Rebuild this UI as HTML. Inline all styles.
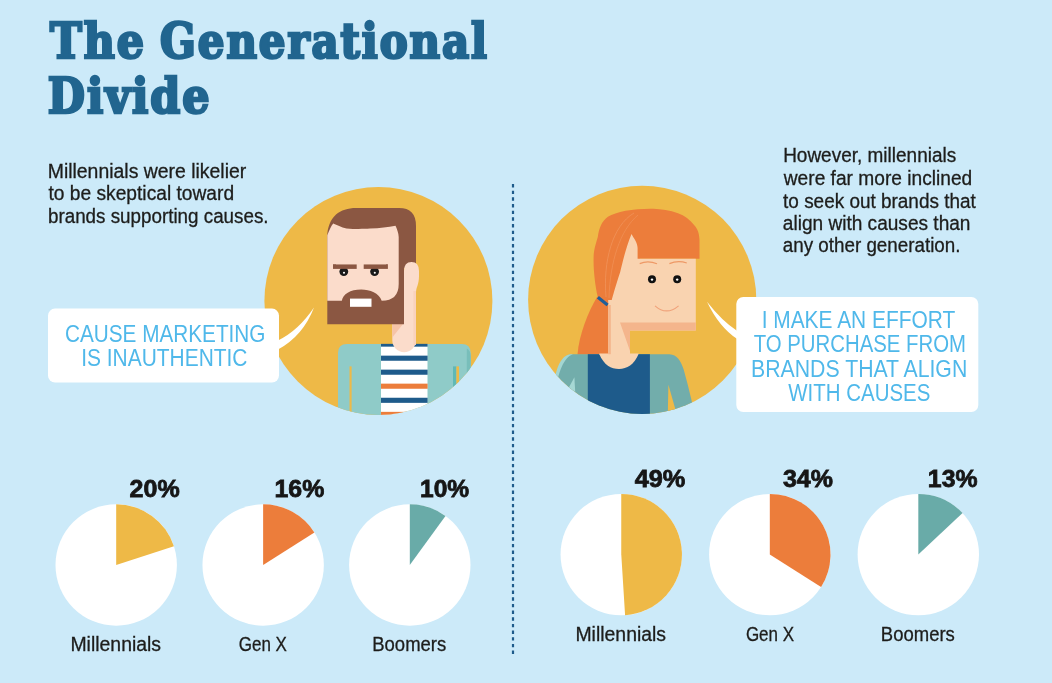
<!DOCTYPE html>
<html><head><meta charset="utf-8"><title>The Generational Divide</title>
<style>
html,body{margin:0;padding:0;background:#cceaf9;}
body{width:1052px;height:683px;overflow:hidden;}
svg{display:block;}
.t{font-family:"DejaVu Serif Condensed","DejaVu Serif","Liberation Serif",serif;font-weight:bold;fill:#21658f;stroke:#21658f;stroke-width:2.5px;stroke-linejoin:miter;}
.p{font-family:"Liberation Sans",sans-serif;fill:#1d1d1b;stroke:#1d1d1b;stroke-width:0.3px;}
.b{font-family:"Liberation Sans",sans-serif;fill:#4fb8ea;}
.n{font-family:"Liberation Sans",sans-serif;font-weight:bold;fill:#161616;stroke:#161616;stroke-width:0.8px;}
</style></head><body>
<svg width="1052" height="683" viewBox="0 0 1052 683">
<rect width="1052" height="683" fill="#cceaf9"/>
<defs>
<clipPath id="cl"><circle cx="378.4" cy="301" r="114"/></clipPath>
<clipPath id="cr"><circle cx="642.2" cy="299.8" r="114.1"/></clipPath>
</defs>
<text class="t" y="58" font-size="47.6" letter-spacing="2.0"><tspan x="50.05" textLength="95.93" lengthAdjust="spacingAndGlyphs">The</tspan> <tspan x="160.07" textLength="328.90" lengthAdjust="spacingAndGlyphs">Generational</tspan></text>
<text class="t" x="47.85" y="113" font-size="47.6" letter-spacing="2.0" textLength="163.53" lengthAdjust="spacingAndGlyphs">Divide</text>
<text class="p" x="47.71" y="178" font-size="19.6" letter-spacing="0" textLength="198.52" lengthAdjust="spacingAndGlyphs">Millennials were likelier</text>
<text class="p" x="48.50" y="200" font-size="19.6" letter-spacing="0" textLength="185.58" lengthAdjust="spacingAndGlyphs">to be skeptical toward</text>
<text class="p" x="47.94" y="223" font-size="19.6" letter-spacing="0" textLength="220.65" lengthAdjust="spacingAndGlyphs">brands supporting causes.</text>
<text class="p" x="783.13" y="162" font-size="19.6" letter-spacing="0" textLength="173.07" lengthAdjust="spacingAndGlyphs">However, millennials</text>
<text class="p" x="783.78" y="185" font-size="19.6" letter-spacing="0" textLength="188.50" lengthAdjust="spacingAndGlyphs">were far more inclined</text>
<text class="p" x="783.10" y="208" font-size="19.6" letter-spacing="0" textLength="192.66" lengthAdjust="spacingAndGlyphs">to seek out brands that</text>
<text class="p" x="782.80" y="230" font-size="19.6" letter-spacing="0" textLength="187.67" lengthAdjust="spacingAndGlyphs">align with causes than</text>
<text class="p" x="782.80" y="252" font-size="19.6" letter-spacing="0" textLength="177.69" lengthAdjust="spacingAndGlyphs">any other generation.</text>
<line x1="513" y1="184" x2="513" y2="654.2" stroke="#1e5b8b" stroke-width="2.2" stroke-dasharray="3.4 3.265"/>
<circle cx="378.4" cy="301" r="114" fill="#eeb947"/>
<g clip-path="url(#cl)">
<path d="M338,420 V353 Q338,344 347,344 H461.7 Q470.7,344 470.7,353 V420 Z" fill="#8fcbc8"/>
<path d="M466.8,420 V348.5 Q470.7,350.5 470.7,356 V420 Z" fill="#78beba"/>
<rect x="381" y="344" width="46.5" height="80" fill="#ffffff"/>
<rect x="381" y="343.85" width="46.6" height="2.8" fill="#1e5b8b"/>
<rect x="381" y="355.65" width="46.6" height="5.1" fill="#1e5b8b"/>
<rect x="381" y="369.65" width="46.6" height="5.1" fill="#1e5b8b"/>
<rect x="381" y="383.65" width="46.6" height="5.1" fill="#ec7d3b"/>
<rect x="381" y="397.75" width="46.6" height="5.1" fill="#1e5b8b"/>
<rect x="381" y="411.85" width="46.6" height="5.1" fill="#ec7d3b"/>
<rect x="349.5" y="366.4" width="2.1" height="60" fill="#eeb947"/>
<rect x="453" y="366.4" width="3.4" height="60" fill="#5fb9b6"/>
<rect x="456.4" y="366.4" width="2.6" height="60" fill="#eeb947"/>
<path d="M392.3,318 H416 V340.3 A11.85,11.85 0 0 1 392.3,340.3 Z" fill="#fbdccb"/>
<path d="M392.3,324 H403 L392.3,337.6 Z" fill="#f6c4a8"/>
<path d="M327.3,324.2 V235 C327.6,228 330,220 336,214.5 C341,210.5 348,208.1 356,208.1 H399 Q416,208.1 416,226 V268 H404 V324.2 Z" fill="#8b5742"/>
<path d="M404,330 V271 Q404,262 411.5,262 Q419,262 419,271 V276 C419,285 416,287 416,293 V330 Z" fill="#fbdccb"/>
<rect x="413.4" y="291" width="2.6" height="54" fill="#f9d2bd"/>
<path d="M327.3,300.7 V235.3 C329,231 331,226 333.2,223.5 C337,225 341,227.2 346.5,228.5 C356,229.3 364,229 370,228.6 C380,228 388,227 395.5,225.7 C397,229 398.6,233 398.7,237 V284 Q398.7,300.7 381.7,300.7 C379,293 370,289.4 361.2,289.4 C350,289.4 343,294 341.8,300.7 Z" fill="#fbdccb"/>
<rect x="350" y="298.6" width="21.5" height="8.2" fill="#ffffff"/>
<circle cx="343.8" cy="271.6" r="4.4" fill="#1a1a1a"/>
<circle cx="344.0" cy="272.8" r="1.05" fill="#ffffff"/>
<circle cx="374.6" cy="271.6" r="4.4" fill="#1a1a1a"/>
<circle cx="374.8" cy="272.8" r="1.05" fill="#ffffff"/>
<rect x="333" y="264.2" width="23.7" height="4.7" fill="#8b5742"/>
<rect x="363.7" y="264.2" width="24.2" height="4.7" fill="#8b5742"/>
<rect x="336" y="262" width="50" height="2.3" fill="#fbdccb"/>
</g>
<rect x="48" y="308.6" width="231" height="74" rx="7" fill="#ffffff"/>
<path d="M278,340.4 Q298,331 314,307.5 Q303,336 278,349.5 Z" fill="#ffffff"/>
<text class="b" x="64.92" y="342" font-size="23.7" letter-spacing="0" textLength="200.52" lengthAdjust="spacingAndGlyphs">CAUSE MARKETING</text>
<text class="b" x="81.13" y="366" font-size="23.7" letter-spacing="0" textLength="166.36" lengthAdjust="spacingAndGlyphs">IS INAUTHENTIC</text>
<circle cx="642.2" cy="299.8" r="114.1" fill="#eeb947"/>
<g clip-path="url(#cr)">
<path d="M597.3,296.5 C588,312 579,335 577.5,354.4 H608.4 V304 Z" fill="#ec7d3b"/>
<path d="M653.6,208.8 C644,208.6 634,209.3 625.5,210.8 C618,212.3 612,214.3 607.9,216.8 C602,221 599,228 597.8,237 C595,246 593.6,252 593.6,257.6 C593.4,266 594,272 594.6,278 C595.5,286 596.5,292 597.7,296.6 L608,304.8 L614,300 L640,258.7 H699.5 V240 C699.3,233 697.5,229 694.5,225.5 C690,219.5 684.5,215.5 678,213.2 C670,210.4 661,209 653.6,208.8 Z" fill="#ec7d3b"/>
<path d="M634,213 C612,226 603,262 606,297" stroke="#f29b64" stroke-width="0.6" fill="none"/>
<path d="M638,215 C620,230 610,262 609,298" stroke="#f29b64" stroke-width="0.5" fill="none"/>
<path d="M550,420 C552,390 556,354.2 572,354.2 H669.5 C677,354.5 681,361 683.5,369 C686,378 690,392 696,420 Z" fill="#72adab"/>
<path d="M553,392 C555,370 560,356 570,354.2 L573,354.2 C564,357 558,372 555.5,392 Z" fill="#a3d6d2"/>
<rect x="587.8" y="354.2" width="62.1" height="70" fill="#1e5b8b"/>
<path d="M599.3,353.6 H638.8 C634,365 627,369 619,369 C611,369 604,365 599.3,354.2 Z" fill="#f9d3b0"/>
<rect x="608.2" y="300" width="21.8" height="54.6" fill="#f9d3b0"/>
<rect x="608.2" y="305" width="2.6" height="49.2" fill="#f4b58c"/>
<path d="M631.5,234 C634,238.5 637.6,243 637.6,248 V258.7 H695.8 V330.5 H611 V303 C613,295 615,288 620.2,272 C622,265 625,250 631.5,234 Z" fill="#f9d3b0"/>
<path d="M620,322.6 H695.8 V330.5 H630 V351 Z" fill="#f4b58c"/>
<path d="M597.9,297.2 L607.6,305" stroke="#1f5f9a" stroke-width="3.2" fill="none"/>
<circle cx="652" cy="279.2" r="4" fill="#111111"/>
<circle cx="652" cy="279.6" r="1.2" fill="#ffffff"/>
<circle cx="677.2" cy="279.2" r="4" fill="#111111"/>
<circle cx="677.2" cy="279.6" r="1.2" fill="#ffffff"/>
<path d="M639.7,263.6 Q648,260 657,263.8" stroke="#ee9966" stroke-width="1.2" fill="none"/>
<path d="M669.4,263.6 Q678,260 686.8,263" stroke="#ee9966" stroke-width="1.2" fill="none"/>
<path d="M655,305.8 Q666.5,316 678.6,305.8" stroke="#f0a27a" stroke-width="1.1" fill="none"/>
<path d="M574.4,377.3 L568.6,388 L575.2,392 Z" fill="#a6d8d4"/>
<path d="M668.4,384.8 L667.8,415 H677 Z" fill="#eeb947"/>
</g>
<rect x="736.3" y="297" width="242" height="115" rx="7" fill="#ffffff"/>
<path d="M737.3,331 Q722,321 707,301.7 Q719,327 737.3,339.1 Z" fill="#ffffff"/>
<text class="b" x="761.64" y="328" font-size="23.7" letter-spacing="0" textLength="193.67" lengthAdjust="spacingAndGlyphs">I MAKE AN EFFORT</text>
<text class="b" x="753.70" y="352" font-size="23.7" letter-spacing="0" textLength="212.29" lengthAdjust="spacingAndGlyphs">TO PURCHASE FROM</text>
<text class="b" x="751.01" y="377" font-size="23.7" letter-spacing="0" textLength="216.27" lengthAdjust="spacingAndGlyphs">BRANDS THAT ALIGN</text>
<text class="b" x="788.30" y="401" font-size="23.7" letter-spacing="0" textLength="142.09" lengthAdjust="spacingAndGlyphs">WITH CAUSES</text>
<circle cx="116.2" cy="565" r="60.7" fill="#ffffff"/>
<path d="M116.2,565 L116.2,504.3 A60.7,60.7 0 0 1 173.93,546.24 Z" fill="#eeb947"/>
<text class="n" x="129.60" y="497" font-size="24.6" letter-spacing="0" textLength="50.07" lengthAdjust="spacingAndGlyphs">20%</text>
<text class="p" x="70.41" y="651" font-size="19.6" letter-spacing="0" textLength="90.69" lengthAdjust="spacingAndGlyphs">Millennials</text>
<circle cx="263.15" cy="565" r="60.7" fill="#ffffff"/>
<path d="M263.15,565 L263.15,504.3 A60.7,60.7 0 0 1 314.40,532.48 Z" fill="#ec7d3b"/>
<text class="n" x="274.49" y="497" font-size="24.6" letter-spacing="0" textLength="49.78" lengthAdjust="spacingAndGlyphs">16%</text>
<text class="p" x="238.80" y="651" font-size="19.6" letter-spacing="0" textLength="48.16" lengthAdjust="spacingAndGlyphs">Gen X</text>
<circle cx="409.8" cy="565" r="60.7" fill="#ffffff"/>
<path d="M409.8,565 L409.8,504.3 A60.7,60.7 0 0 1 445.48,515.89 Z" fill="#69aba8"/>
<text class="n" x="420.00" y="497" font-size="24.6" letter-spacing="0" textLength="49.17" lengthAdjust="spacingAndGlyphs">10%</text>
<text class="p" x="372.26" y="651" font-size="19.6" letter-spacing="0" textLength="73.95" lengthAdjust="spacingAndGlyphs">Boomers</text>
<circle cx="621.25" cy="554.6" r="60.7" fill="#ffffff"/>
<path d="M621.25,554.6 L621.25,493.90000000000003 A60.7,60.7 0 0 1 625.06,615.18 Z" fill="#eeb947"/>
<text class="n" x="634.70" y="487" font-size="24.6" letter-spacing="0" textLength="50.66" lengthAdjust="spacingAndGlyphs">49%</text>
<text class="p" x="575.41" y="641" font-size="19.6" letter-spacing="0" textLength="90.69" lengthAdjust="spacingAndGlyphs">Millennials</text>
<circle cx="769.8" cy="554.6" r="60.7" fill="#ffffff"/>
<path d="M769.8,554.6 L769.8,493.90000000000003 A60.7,60.7 0 0 1 821.05,587.12 Z" fill="#ec7d3b"/>
<text class="n" x="782.90" y="487" font-size="24.6" letter-spacing="0" textLength="49.97" lengthAdjust="spacingAndGlyphs">34%</text>
<text class="p" x="745.90" y="641" font-size="19.6" letter-spacing="0" textLength="48.16" lengthAdjust="spacingAndGlyphs">Gen X</text>
<circle cx="918.3" cy="554.6" r="60.7" fill="#ffffff"/>
<path d="M918.3,554.6 L918.3,493.90000000000003 A60.7,60.7 0 0 1 962.55,513.05 Z" fill="#69aba8"/>
<text class="n" x="927.89" y="487" font-size="24.6" letter-spacing="0" textLength="49.68" lengthAdjust="spacingAndGlyphs">13%</text>
<text class="p" x="880.86" y="641" font-size="19.6" letter-spacing="0" textLength="73.95" lengthAdjust="spacingAndGlyphs">Boomers</text>
</svg></body></html>
